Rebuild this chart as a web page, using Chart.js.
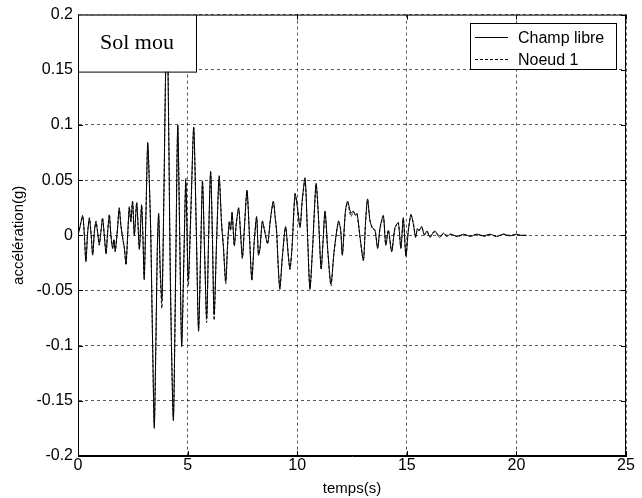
<!DOCTYPE html>
<html>
<head>
<meta charset="utf-8">
<script src="https://cdn.jsdelivr.net/npm/chart.js@4.4.1/dist/chart.umd.min.js"></script>
<style>
    html, body { margin: 0; padding: 0; background: #fff; }
    #wrap { width: 642px; height: 498px; }
</style>
</head>
<body>
<div id="wrap"><canvas id="myChart"></canvas></div>
<script>
// temps (s)
const temps = [
    0.00, 0.10, 0.21, 0.28, 0.36, 0.44, 0.52, 0.60, 0.67, 0.75,
    0.82, 0.90, 0.97, 1.05, 1.12, 1.20, 1.28, 1.35, 1.43, 1.50,
    1.58, 1.64, 1.70, 1.80, 1.88, 1.96, 2.04, 2.12, 2.19, 2.27,
    2.34, 2.41, 2.49, 2.57, 2.68, 2.80, 2.90, 2.96, 3.02, 3.10,
    3.18, 3.25, 3.32, 3.41, 3.48, 3.55, 3.62, 3.68, 3.75, 3.83,
    3.92, 4.00, 4.07, 4.14, 4.22, 4.35, 4.45, 4.55, 4.64, 4.73,
    4.83, 4.92, 5.03, 5.16, 5.28, 5.40, 5.50, 5.60, 5.68, 5.78,
    5.87, 5.96, 6.05, 6.13, 6.21, 6.33, 6.44, 6.55, 6.63, 6.74,
    6.82, 6.90, 6.96, 7.03, 7.13, 7.22, 7.33, 7.42, 7.50, 7.60,
    7.71, 7.82, 7.93, 8.04, 8.15, 8.23, 8.30, 8.41, 8.50, 8.65,
    8.78, 8.91, 9.00, 9.06, 9.14, 9.21, 9.32, 9.47, 9.60, 9.67,
    9.76, 9.90, 9.99, 10.13, 10.23, 10.36, 10.48, 10.58, 10.70, 10.86,
    10.96, 11.09, 11.18, 11.27, 11.40, 11.54, 11.68, 11.88, 11.98, 12.06,
    12.20, 12.30, 12.45, 12.56, 12.65, 12.73, 12.87, 13.02, 13.12, 13.21,
    13.32, 13.43, 13.55, 13.67, 13.78, 13.93, 14.04, 14.16, 14.31, 14.46,
    14.61, 14.73, 14.84, 14.96, 15.07, 15.19, 15.30, 15.40, 15.48, 15.56,
    15.68, 15.80, 15.92, 16.06, 16.16, 16.28, 16.41, 16.51, 16.67, 16.82,
    17.00, 17.30, 17.60, 17.90, 18.20, 18.50, 18.80, 19.10, 19.40, 19.70,
    20.00, 20.20, 20.47
];

// accélération (g) - Champ libre
const champLibre = [
    0, 0.008, 0.018, 0.004, -0.024, 0.002, 0.015, 0.000, -0.018, 0.004,
    0.012, 0.002, -0.008, 0.004, 0.015, 0.000, -0.017, 0.002, 0.018, 0.000,
    -0.012, -0.004, -0.014, 0.006, 0.024, 0.008, -0.003, -0.012, -0.026, 0.002,
    0.025, 0.012, 0.031, 0.000, 0.029, -0.012, 0.027, 0.000, -0.038, 0.020,
    0.084, 0.050, 0.000, -0.106, -0.175, -0.100, -0.010, 0.020, -0.030, -0.058,
    0.040, 0.150, 0.190, 0.090, -0.050, -0.168, -0.040, 0.100, 0.000, -0.101,
    -0.020, 0.048, -0.040, 0.030, 0.098, 0.000, -0.087, -0.010, 0.048, -0.020,
    -0.075, 0.000, 0.058, 0.000, -0.072, 0.000, 0.054, 0.010, -0.010, -0.042,
    -0.010, 0.012, 0.005, 0.021, -0.009, 0.010, 0.025, 0.000, -0.020, 0.010,
    0.041, 0.000, -0.040, -0.005, 0.017, -0.018, -0.012, 0.013, 0.005, -0.007,
    0.015, 0.031, 0.015, 0.004, -0.030, -0.049, -0.020, 0.008, -0.020, -0.030,
    -0.012, 0.038, 0.028, 0.007, 0.032, 0.052, -0.005, -0.049, -0.012, 0.047,
    0.020, -0.030, -0.005, 0.022, -0.015, -0.044, -0.015, 0.013, 0.005, -0.018,
    0.022, 0.031, 0.020, 0.022, 0.018, 0.020, -0.002, -0.023, 0.013, 0.033,
    0.013, 0.007, 0.004, -0.012, 0.007, 0.018, -0.009, 0.004, -0.015, 0.007,
    0.011, -0.012, 0.016, -0.019, 0.004, 0.019, 0.010, -0.002, 0.006, 0.004,
    0.008, 0.000, 0.004, -0.002, 0.001, 0.004, 0.000, -0.002, 0.002, -0.001,
    0.001, -0.001, 0.001, -0.001, 0.001, -0.0005, 0.001, -0.001, 0.001, -0.0005,
    0.001, 0.000, 0.000
];

// accélération (g) - Noeud 1
const noeud1 = [
    0, 0.009, 0.017, 0.003, -0.023, 0.003, 0.016, 0.001, -0.017, 0.003,
    0.013, 0.002, -0.009, 0.004, 0.016, 0.000, -0.016, 0.003, 0.019, 0.001,
    -0.011, -0.004, -0.015, 0.005, 0.025, 0.009, -0.002, -0.013, -0.027, 0.001,
    0.026, 0.013, 0.030, 0.001, 0.030, -0.013, 0.028, -0.001, -0.041, 0.018,
    0.082, 0.052, 0.002, -0.104, -0.172, -0.105, -0.014, 0.018, -0.036, -0.066,
    0.036, 0.152, 0.200, 0.095, -0.046, -0.165, -0.044, 0.098, -0.002, -0.097,
    -0.024, 0.052, -0.046, 0.026, 0.097, 0.003, -0.084, -0.014, 0.050, -0.018,
    -0.079, -0.003, 0.057, 0.002, -0.077, -0.002, 0.051, 0.012, -0.008, -0.044,
    -0.012, 0.013, 0.004, 0.020, -0.010, 0.011, 0.024, 0.001, -0.021, 0.009,
    0.040, 0.002, -0.041, -0.006, 0.016, -0.017, -0.013, 0.012, 0.006, -0.008,
    0.014, 0.030, 0.016, 0.003, -0.031, -0.048, -0.021, 0.007, -0.019, -0.031,
    -0.013, 0.037, 0.029, 0.008, 0.031, 0.050, -0.004, -0.048, -0.013, 0.046,
    0.021, -0.031, -0.006, 0.021, -0.016, -0.046, -0.016, 0.012, 0.006, -0.017,
    0.021, 0.030, 0.017, 0.021, 0.019, 0.019, -0.003, -0.022, 0.012, 0.032,
    0.014, 0.006, 0.005, -0.011, 0.006, 0.017, -0.008, 0.005, -0.014, 0.006,
    0.012, -0.011, 0.015, -0.018, 0.005, 0.018, 0.011, -0.001, 0.005, 0.005,
    0.007, 0.001, 0.003, -0.001, 0.002, 0.003, 0.001, -0.001, 0.001, 0.000,
    0.001, -0.001, 0.0005, -0.0005, 0.001, -0.001, 0.0005, -0.001, 0.001, 0.000,
    0.0005, 0.000, 0.000
];

const yTicks = [-0.2, -0.15, -0.1, -0.05, 0, 0.05, 0.1, 0.15, 0.2];
const xTicks = [0, 5, 10, 15, 20, 25];

document.addEventListener("DOMContentLoaded", function() {
    const ctx = document.getElementById('myChart').getContext('2d');

    function toPoints(values) {
        return temps.map((t, i) => ({ x: t, y: values[i] }));
    }

    // cadre, graduations internes, boite "Sol mou" et légende
    const matlabLook = {
        id: 'matlabLook',
        afterDraw(chart) {
            const c = chart.ctx;
            const a = chart.chartArea;
            const xs = chart.scales.x;
            const ys = chart.scales.y;
            c.save();
            c.strokeStyle = '#000';
            c.lineWidth = 1;
            c.setLineDash([]);
            c.strokeRect(a.left + 0.5, a.top + 0.5, a.right - a.left - 1, a.bottom - a.top - 1);

            c.beginPath();
            xTicks.forEach(v => {
                const px = Math.round(xs.getPixelForValue(v)) + 0.5;
                c.moveTo(px, a.bottom); c.lineTo(px, a.bottom - 5);
                c.moveTo(px, a.top); c.lineTo(px, a.top + 5);
            });
            yTicks.forEach(v => {
                const py = Math.round(ys.getPixelForValue(v)) + 0.5;
                c.moveTo(a.left, py); c.lineTo(a.left + 5, py);
                c.moveTo(a.right, py); c.lineTo(a.right - 5, py);
            });
            c.stroke();

            // boite "Sol mou"
            c.fillStyle = '#fff';
            c.fillRect(a.left, a.top, 118, 57);
            c.strokeRect(a.left + 0.5, a.top + 0.5, 118, 57);
            c.fillStyle = '#000';
            c.font = '22px "Liberation Serif"';
            c.textAlign = 'center';
            c.textBaseline = 'middle';
            c.fillText('Sol mou', a.left + 59, a.top + 29);

            // légende
            const lx = 470, ly = 23, lw = 146, lh = 46;
            c.fillStyle = '#fff';
            c.fillRect(lx, ly, lw, lh);
            c.strokeRect(lx + 0.5, ly + 0.5, lw, lh);
            c.font = '16px "Liberation Sans"';
            c.textAlign = 'left';
            chart.data.datasets.forEach((ds, i) => {
                const yy = ly + 14 + i * 22 + 0.5;
                c.beginPath();
                c.setLineDash(ds.borderDash || []);
                c.moveTo(lx + 5, yy);
                c.lineTo(lx + 38, yy);
                c.stroke();
                c.setLineDash([]);
                c.fillStyle = '#000';
                c.fillText(ds.label, lx + 48, yy + 1);
            });
            c.restore();
        }
    };

    new Chart(ctx, {
        type: 'line',
        data: {
            datasets: [
                {
                    label: 'Champ libre',
                    data: toPoints(champLibre),
                    borderColor: '#000',
                    borderWidth: 1,
                    pointRadius: 0,
                    tension: 0.25,
                    fill: false
                },
                {
                    label: 'Noeud 1',
                    data: toPoints(noeud1),
                    borderColor: '#000',
                    borderWidth: 1,
                    borderDash: [3, 2],
                    pointRadius: 0,
                    tension: 0.25,
                    fill: false
                }
            ]
        },
        options: {
            responsive: true,
            maintainAspectRatio: false,
            animation: false,
            layout: { padding: { top: 14, right: 16, left: 0, bottom: 0 } },
            plugins: {
                legend: { display: false },
                tooltip: { enabled: false }
            },
            scales: {
                x: {
                    type: 'linear',
                    min: 0,
                    max: 25,
                    afterBuildTicks: scale => { scale.ticks = xTicks.map(v => ({ value: v })); },
                    afterFit: scale => { scale.height = 42; },
                    ticks: {
                        color: '#000',
                        font: { family: 'Liberation Sans', size: 16 },
                        padding: 0,
                        maxRotation: 0
                    },
                    grid: { color: 'rgba(0,0,0,0.65)', drawTicks: false },
                    border: { display: true, color: '#000', dash: [3, 3] },
                    title: {
                        display: true,
                        text: 'temps(s)',
                        color: '#000',
                        font: { family: 'Liberation Sans', size: 15 },
                        padding: { top: 0, bottom: 0 }
                    }
                },
                y: {
                    min: -0.2,
                    max: 0.2,
                    afterBuildTicks: scale => { scale.ticks = yTicks.map(v => ({ value: v })); },
                    afterFit: scale => { scale.width = 78; },
                    ticks: {
                        color: '#000',
                        font: { family: 'Liberation Sans', size: 16 },
                        padding: 5,
                        callback: v => String(Number(v.toFixed(2)))
                    },
                    grid: { color: 'rgba(0,0,0,0.65)', drawTicks: false },
                    border: { display: true, color: '#000', dash: [3, 3] },
                    title: {
                        display: true,
                        text: 'accélération(g)',
                        color: '#000',
                        font: { family: 'Liberation Sans', size: 15 },
                        padding: { top: 10, bottom: 0 }
                    }
                }
            }
        },
        plugins: [matlabLook]
    });
});
</script>
</body>
</html>
